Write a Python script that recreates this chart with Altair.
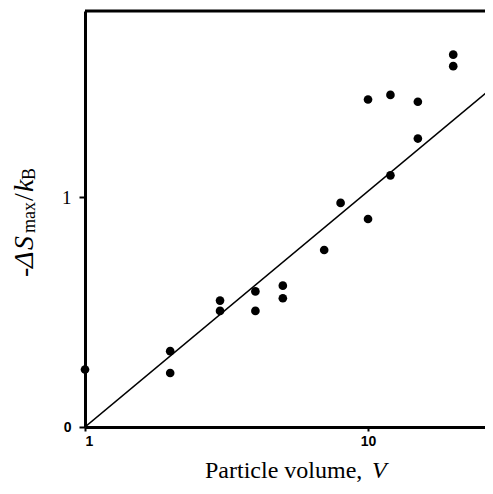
import altair as alt
import pandas as pd

# data
volume = [1, 2, 2, 3, 3, 4, 4, 5, 5, 7, 8, 10, 10, 12, 12, 15, 15, 20, 20]
entropy = [0.25, 0.33, 0.235, 0.55, 0.505, 0.59, 0.505, 0.615, 0.56, 0.77,
           0.975, 0.905, 1.425, 1.445, 1.095, 1.415, 1.255, 1.62, 1.57]
fit_volume = [1, 27.7]
fit_entropy = [0, 1.48]
x_ticks = [1, 10]
y_ticks = [0, 1]

W, H = 400, 416
pts = pd.DataFrame({"V": volume, "S": entropy})
fit = pd.DataFrame({"V": fit_volume, "S": fit_entropy})

xscale = alt.Scale(type="log", domain=[1, 25.9], nice=False)
yscale = alt.Scale(domain=[0, 1.81], nice=False, zero=False)

xaxis = alt.Axis(values=x_ticks, format="d", title=None, grid=False,
                 domainWidth=3, domainColor="black", tickColor="black",
                 tickWidth=2, tickSize=4, labelPadding=3,
                 labelFont="Liberation Sans", labelFontSize=14,
                 labelFontWeight="bold", labelColor="black")
yaxis = alt.Axis(values=y_ticks, format="d", title=None, grid=False,
                 domainWidth=3, domainColor="black", tickColor="black",
                 tickWidth=2, tickSize=6, labelPadding=8,
                 labelFont={"condition": {"test": "datum.value == 1", "value": "Liberation Serif"},
                            "value": "Liberation Sans"},
                 labelFontSize={"condition": {"test": "datum.value == 1", "value": 19},
                                "value": 14},
                 labelFontWeight={"condition": {"test": "datum.value == 1", "value": "normal"},
                                  "value": "bold"},
                 labelColor="black")

line = alt.Chart(fit).mark_line(color="black", strokeWidth=1.5, clip=True).encode(
    x=alt.X("V:Q", scale=xscale, axis=xaxis),
    y=alt.Y("S:Q", scale=yscale, axis=yaxis),
)
points = alt.Chart(pts).mark_circle(color="black", opacity=1, size=75).encode(
    x=alt.X("V:Q", scale=xscale),
    y=alt.Y("S:Q", scale=yscale),
)

one = alt.Data(values=[{}])
top_border = alt.Chart(one).mark_rule(color="black", strokeWidth=3).encode(
    x=alt.value(0), x2=alt.value(W), y=alt.value(0))


def txt(s, x, y, size, style="normal", angle=0):
    props = dict(align="left", baseline="alphabetic", font="Liberation Serif",
                 fontSize=size, fontStyle=style, color="black")
    if angle:
        props["angle"] = angle
    return alt.Chart(one).mark_text(**props).encode(
        x=alt.value(x), y=alt.value(y), text=alt.value(s))


# y title pieces: -ΔS_max/k_B (rotated)
ytitle = [
    txt("-", -52, 266, 28, angle=270),
    txt("Δ", -52, 257, 28, "italic", angle=270),
    txt("S", -52, 239, 28, "italic", angle=270),
    txt("max", -50, 222, 18, angle=270),
    txt("/", -52, 190, 28, angle=270),
    txt("k", -52, 181, 28, "italic", angle=270),
    txt("B", -50, 169, 18, angle=270),
]
xtitle = [
    txt("Particle volume,", 120, 467, 24),
    txt("V", 287, 467, 24, "italic"),
]

chart = alt.layer(line, points, top_border, *ytitle, *xtitle).properties(
    width=W, height=H,
    autosize=alt.AutoSizeParams(type="none"),
    padding={"left": 77, "top": 3, "right": 0, "bottom": 55},
).configure_view(stroke=None)

chart.save("out.html", embed_options={"renderer": "svg", "actions": False})
